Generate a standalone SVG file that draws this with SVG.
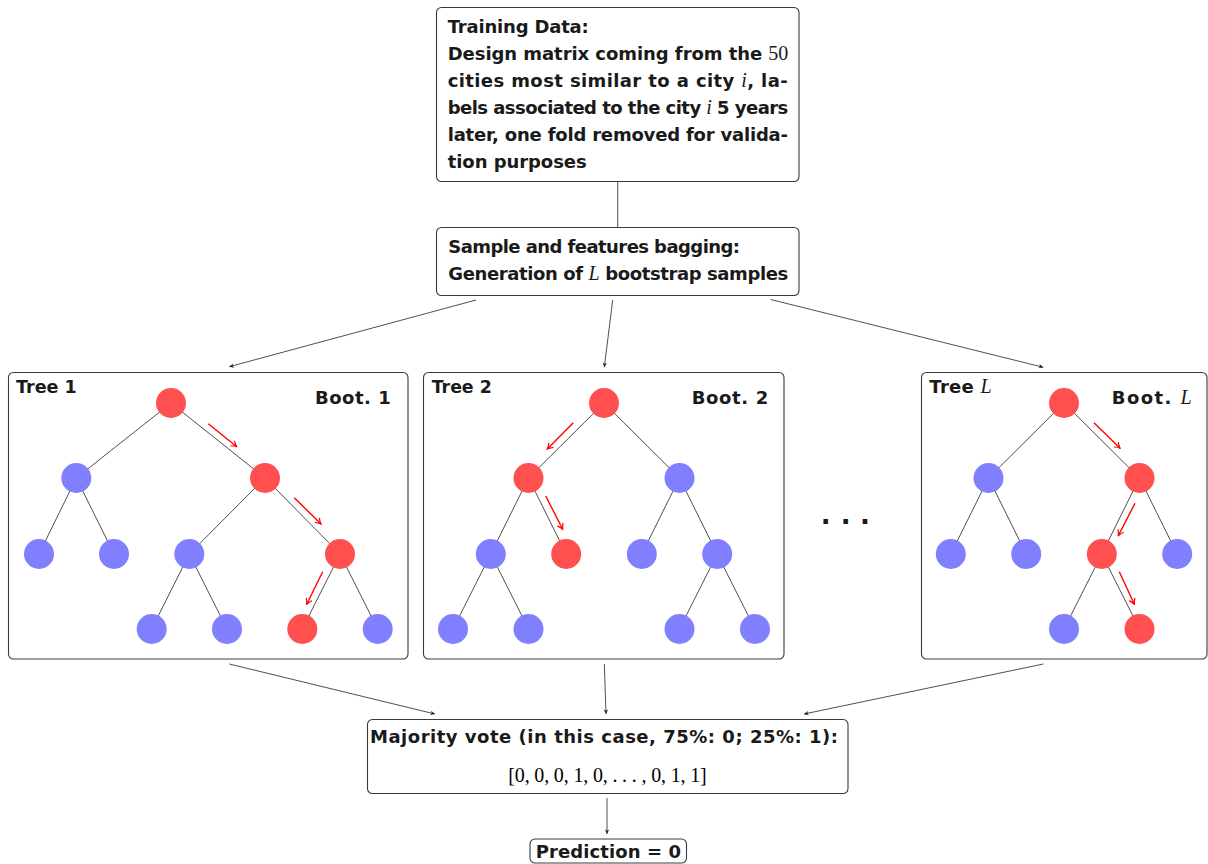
<svg xmlns="http://www.w3.org/2000/svg" width="1208" height="864" viewBox="0 0 1208 864">
<defs>
<style>
.box{fill:#fff;stroke:#3a3a3a;stroke-width:1.1}
.t{font-family:"DejaVu Sans",sans-serif;font-weight:bold;font-size:18px;fill:#1a1a1a}
.m{font-family:"Liberation Serif",serif;font-weight:normal;font-size:20px}
.mi{font-family:"Liberation Serif",serif;font-weight:normal;font-style:italic;font-size:20px}
.e{stroke:#222;stroke-width:0.8;fill:none}
.c{stroke:#222;stroke-width:0.8;fill:none}
.ra{stroke:#ff0000;stroke-width:1.4;fill:none}
.r{fill:#ff4f4f}
.b{fill:#8080ff}
</style>
<marker id="ah" viewBox="-6 -3 7 6" refX="0" refY="0" markerWidth="7" markerHeight="6" markerUnits="userSpaceOnUse" orient="auto">
<path d="M-4.5,-2.2 L0,0 L-4.5,2.2 L-3.3,0 Z" fill="#222"/>
</marker>
<marker id="ahr" viewBox="-7 -4 8 8" refX="0" refY="0" markerWidth="8" markerHeight="8" markerUnits="userSpaceOnUse" orient="auto">
<path d="M-5.5,-3.2 Q-2.5,-0.9 0,0 Q-2.5,0.9 -5.5,3.2" fill="none" stroke="#ff0000" stroke-width="1.2"/>
</marker>
</defs>
<rect width="1208" height="864" fill="#fff"/>

<g id="connectors">
<line class="c" x1="617.7" y1="181.5" x2="617.7" y2="227.5"/>
<line class="c" x1="476" y1="300" x2="229.3" y2="366.7" marker-end="url(#ah)"/>
<line class="c" x1="612.7" y1="300" x2="604.3" y2="367.3" marker-end="url(#ah)"/>
<line class="c" x1="770.7" y1="299.5" x2="1043.3" y2="367.3" marker-end="url(#ah)"/>
<line class="c" x1="229.3" y1="664" x2="435" y2="714" marker-end="url(#ah)"/>
<line class="c" x1="604.3" y1="664" x2="606" y2="714" marker-end="url(#ah)"/>
<line class="c" x1="1043.3" y1="664" x2="804" y2="714" marker-end="url(#ah)"/>
<line class="c" x1="607" y1="798" x2="607" y2="834" marker-end="url(#ah)"/>
</g>

<g id="training-data">
<rect class="box" x="436.5" y="7.5" width="362.5" height="174" rx="5"/>
<text class="t" x="447.7" y="33" textLength="141" lengthAdjust="spacing">Training Data:</text>
<text class="t" x="447.7" y="60" textLength="340.6" lengthAdjust="spacing">Design matrix coming from the <tspan class="m">50</tspan></text>
<text class="t" x="447.7" y="87" textLength="340" lengthAdjust="spacing">cities most similar to a city <tspan class="mi">i</tspan>, la-</text>
<text class="t" x="447.7" y="114" textLength="340.6" lengthAdjust="spacing">bels associated to the city <tspan class="mi">i</tspan> 5 years</text>
<text class="t" x="447.7" y="141" textLength="340.3" lengthAdjust="spacing">later, one fold removed for valida-</text>
<text class="t" x="447.7" y="168" textLength="139" lengthAdjust="spacing">tion purposes</text>
</g>

<g id="bagging">
<rect class="box" x="436.5" y="227.5" width="362.5" height="68" rx="5"/>
<text class="t" x="448.3" y="253" textLength="291.7" lengthAdjust="spacing">Sample and features bagging:</text>
<text class="t" x="448.3" y="280" textLength="340" lengthAdjust="spacing">Generation of <tspan class="mi">L</tspan> bootstrap samples</text>
</g>

<g id="tree1">
<rect class="box" x="8.5" y="372.5" width="399.5" height="286.5" rx="5"/>
<g class="e">
<line x1="171" y1="403" x2="76.3" y2="478"/>
<line x1="171" y1="403" x2="265" y2="478"/>
<line x1="76.3" y1="478" x2="39" y2="554"/>
<line x1="76.3" y1="478" x2="114" y2="554"/>
<line x1="265" y1="478" x2="189.3" y2="554"/>
<line x1="265" y1="478" x2="340" y2="554"/>
<line x1="189.3" y1="554" x2="151.7" y2="629"/>
<line x1="189.3" y1="554" x2="227" y2="629"/>
<line x1="340" y1="554" x2="302.3" y2="629"/>
<line x1="340" y1="554" x2="377.7" y2="629"/>
</g>
<circle class="r" cx="171" cy="403" r="15"/>
<circle class="b" cx="76.3" cy="478" r="15"/>
<circle class="r" cx="265" cy="478" r="15"/>
<circle class="b" cx="39" cy="554" r="15"/>
<circle class="b" cx="114" cy="554" r="15"/>
<circle class="b" cx="189.3" cy="554" r="15"/>
<circle class="r" cx="340" cy="554" r="15"/>
<circle class="b" cx="151.7" cy="629" r="15"/>
<circle class="b" cx="227" cy="629" r="15"/>
<circle class="r" cx="302.3" cy="629" r="15"/>
<circle class="b" cx="377.7" cy="629" r="15"/>
<line class="ra" x1="208.3" y1="423.7" x2="236.7" y2="446.7" marker-end="url(#ahr)"/>
<line class="ra" x1="294.3" y1="497.7" x2="321" y2="524" marker-end="url(#ahr)"/>
<line class="ra" x1="322.7" y1="571.7" x2="306.7" y2="604.3" marker-end="url(#ahr)"/>
<text class="t" x="16" y="393.3" textLength="60.7" lengthAdjust="spacingAndGlyphs">Tree 1</text>
<text class="t" x="315" y="404" textLength="75.7" lengthAdjust="spacing">Boot. 1</text>
</g>

<g id="tree2">
<rect class="box" x="423.5" y="372.5" width="360.5" height="286.5" rx="5"/>
<g class="e">
<line x1="604" y1="403" x2="528.5" y2="478"/>
<line x1="604" y1="403" x2="679.5" y2="478"/>
<line x1="528.5" y1="478" x2="490.8" y2="554"/>
<line x1="528.5" y1="478" x2="566.2" y2="554"/>
<line x1="679.5" y1="478" x2="641.8" y2="554"/>
<line x1="679.5" y1="478" x2="717.2" y2="554"/>
<line x1="490.8" y1="554" x2="453" y2="629"/>
<line x1="490.8" y1="554" x2="528.5" y2="629"/>
<line x1="717.2" y1="554" x2="679.5" y2="629"/>
<line x1="717.2" y1="554" x2="755" y2="629"/>
</g>
<circle class="r" cx="604" cy="403" r="15"/>
<circle class="r" cx="528.5" cy="478" r="15"/>
<circle class="b" cx="679.5" cy="478" r="15"/>
<circle class="b" cx="490.8" cy="554" r="15"/>
<circle class="r" cx="566.2" cy="554" r="15"/>
<circle class="b" cx="641.8" cy="554" r="15"/>
<circle class="b" cx="717.2" cy="554" r="15"/>
<circle class="b" cx="453" cy="629" r="15"/>
<circle class="b" cx="528.5" cy="629" r="15"/>
<circle class="b" cx="679.5" cy="629" r="15"/>
<circle class="b" cx="755" cy="629" r="15"/>
<line class="ra" x1="573.3" y1="422.7" x2="547.3" y2="449" marker-end="url(#ahr)"/>
<line class="ra" x1="545.7" y1="496" x2="562.7" y2="529.3" marker-end="url(#ahr)"/>
<text class="t" x="431.7" y="393.3" textLength="60" lengthAdjust="spacingAndGlyphs">Tree 2</text>
<text class="t" x="691.7" y="404" textLength="76.6" lengthAdjust="spacing">Boot. 2</text>
</g>

<g id="dots">
<text class="t" x="825.7 845.7 865" y="531" text-anchor="middle" style="font-size:26px">···</text>
</g>

<g id="treeL">
<rect class="box" x="921.5" y="372.5" width="285.5" height="286.5" rx="5"/>
<g class="e">
<line x1="1064" y1="403" x2="988.5" y2="478"/>
<line x1="1064" y1="403" x2="1139.5" y2="478"/>
<line x1="988.5" y1="478" x2="950.8" y2="554"/>
<line x1="988.5" y1="478" x2="1026.2" y2="554"/>
<line x1="1139.5" y1="478" x2="1101.8" y2="554"/>
<line x1="1139.5" y1="478" x2="1177.2" y2="554"/>
<line x1="1101.8" y1="554" x2="1064" y2="629"/>
<line x1="1101.8" y1="554" x2="1139.5" y2="629"/>
</g>
<circle class="r" cx="1064" cy="403" r="15"/>
<circle class="b" cx="988.5" cy="478" r="15"/>
<circle class="r" cx="1139.5" cy="478" r="15"/>
<circle class="b" cx="950.8" cy="554" r="15"/>
<circle class="b" cx="1026.2" cy="554" r="15"/>
<circle class="r" cx="1101.8" cy="554" r="15"/>
<circle class="b" cx="1177.2" cy="554" r="15"/>
<circle class="b" cx="1064" cy="629" r="15"/>
<circle class="r" cx="1139.5" cy="629" r="15"/>
<line class="ra" x1="1094" y1="422.7" x2="1120" y2="448.3" marker-end="url(#ahr)"/>
<line class="ra" x1="1135" y1="503.3" x2="1118.3" y2="535.7" marker-end="url(#ahr)"/>
<line class="ra" x1="1119.3" y1="571.7" x2="1134.3" y2="604.3" marker-end="url(#ahr)"/>
<text class="t" x="929.3" y="393.3" textLength="62.4" lengthAdjust="spacing">Tree <tspan class="mi">L</tspan></text>
<text class="t" x="1111.7" y="404" textLength="80" lengthAdjust="spacing">Boot. <tspan class="mi">L</tspan></text>
</g>

<g id="majority">
<rect class="box" x="367.5" y="719.5" width="480.5" height="74" rx="5"/>
<text class="t" x="370" y="743.3" textLength="468" lengthAdjust="spacing">Majority vote (in this case, 75%: 0; 25%: 1):</text>
<text class="m" x="508.3" y="782" textLength="198.4" lengthAdjust="spacing">[0, 0, 0, 1, 0, . . . , 0, 1, 1]</text>
</g>

<g id="prediction">
<rect class="box" x="530" y="839" width="156.5" height="24" rx="5"/>
<text class="t" x="535.7" y="858" textLength="145.3" lengthAdjust="spacing">Prediction = 0</text>
</g>
</svg>
